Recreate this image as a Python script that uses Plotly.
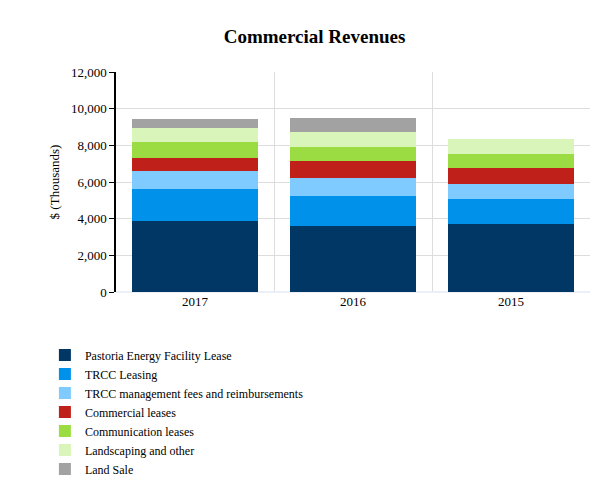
import plotly.graph_objects as go

years = ["2017", "2016", "2015"]
series = {
    "Pastoria Energy Facility Lease": [3850, 3600, 3700],
    "TRCC Leasing": [1770, 1650, 1400],
    "TRCC management fees and reimbursements": [980, 950, 800],
    "Commercial leases": [710, 920, 850],
    "Communication leases": [870, 800, 780],
    "Landscaping and other": [770, 800, 800],
    "Land Sale": [490, 750, 0],
}
colors = ["#003764", "#0091eb", "#7fcbff", "#c0201a", "#9bdc42", "#daf5b9", "#a2a2a2"]

fig = go.Figure()
for (name, vals), c in zip(series.items(), colors):
    fig.add_bar(x=years, y=vals, name=name, marker_color=c, marker_line_width=0)

fig.update_layout(
    barmode="stack",
    bargap=0.2,
    width=613, height=480,
    template="plotly_white",
    font=dict(family="Liberation Serif", size=13, color="#000"),
    title=dict(text="<b>Commercial Revenues</b>", x=0.5, y=0.955, font=dict(size=19)),
    margin=dict(l=108, r=31, t=64, b=196, autoexpand=False),
    legend=dict(orientation="h", traceorder="normal", x=-0.15, y=-0.22,
                xanchor="left", yanchor="top", entrywidth=270,
                font=dict(size=12, family="Liberation Serif"), itemsizing="constant"),
    showlegend=True,
)
fig.update_xaxes(tickson="boundaries", showgrid=True, gridcolor="#dddddd", ticks="",
                 showline=False)
fig.update_yaxes(range=[0, 12000], dtick=2000, tickformat=",", gridcolor="#dddddd",
                 showline=True, linecolor="#000", linewidth=1.5, ticks="outside",
                 ticklen=5, tickcolor="#000",
                 title=dict(text="$ (Thousands)", standoff=8, font=dict(size=13)))
fig.write_html("out.html")
